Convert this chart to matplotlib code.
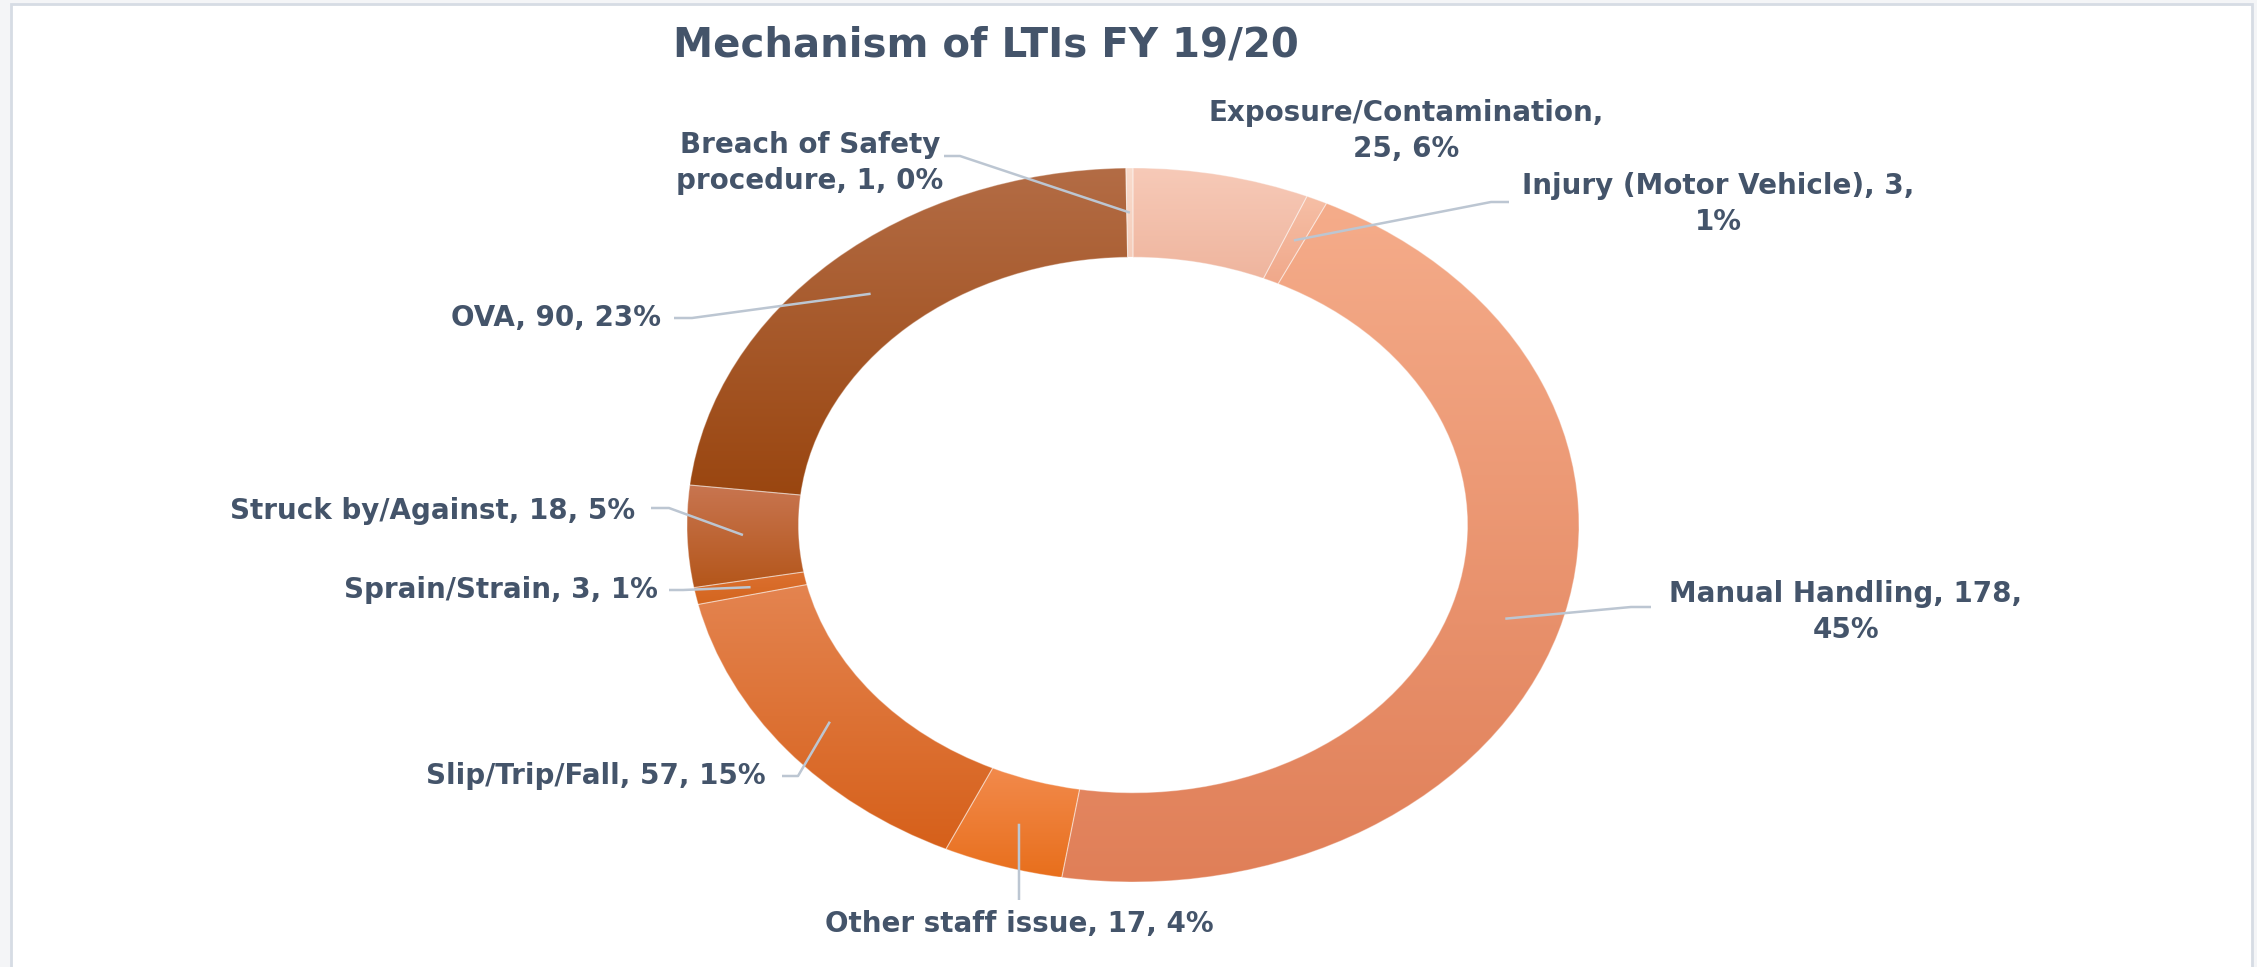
import numpy as np
import matplotlib
matplotlib.use("Agg")
import matplotlib.pyplot as plt
from matplotlib.colors import LinearSegmentedColormap
from matplotlib.patches import Rectangle

# data
categories = ['Exposure/Contamination', 'Injury (Motor Vehicle)', 'Manual Handling',
              'Other staff issue', 'Slip/Trip/Fall', 'Sprain/Strain',
              'Struck by/Against', 'OVA', 'Breach of Safety procedure']
counts = [25, 3, 178, 17, 57, 3, 18, 90, 1]

# styles (top -> bottom of each slice)
top_colors = ['#F7CAB8', '#F6BFA6', '#F5AC8A', '#F28A4C', '#E48450',
              '#DC7030', '#C87550', '#B36C45', '#F9DCCD']
bottom_colors = ['#EFB59E', '#F0A88A', '#E07F58', '#E86F1C', '#D6601A',
                 '#D4661F', '#B4561A', '#9A4610', '#F5CDBB']

W, H = 2257, 967
cx, cy, rx, ry = 1133, 525, 446, 357   # pixel geometry of the ring
text_col = '#44546A'
line_col = '#BCC6D2'

plt.rcParams['font.family'] = ['DejaVu Sans']


def px(x, y):
    # pixel position (from top-left) -> data coords
    return (x - cx) / rx, (cy - y) / ry


fig = plt.figure(figsize=(W / 100, H / 100), dpi=100)
fig.patch.set_facecolor('#F4F5F7')
fig.patches.append(Rectangle((11 / W, -0.05), (2252 - 11) / W, 1.05 - 4 / H,
                             transform=fig.transFigure, facecolor='white',
                             edgecolor='#D6DCE4', linewidth=2, zorder=-1))

ax = fig.add_axes([0, 0, 1, 1])
ax.patch.set_alpha(0)

wedges, _ = ax.pie(counts, startangle=90, counterclock=False, radius=1,
                   wedgeprops=dict(width=0.25, edgecolor='none'))

# vertical gradient inside each slice
grad = np.linspace(0, 1, 256).reshape(-1, 1)
for w, c0, c1 in zip(wedges, top_colors, bottom_colors):
    bb = w.get_path().get_extents()
    cmap = LinearSegmentedColormap.from_list('g', [c0, c1])
    im = ax.imshow(grad, extent=[bb.x0, bb.x1, bb.y0, bb.y1], cmap=cmap,
                   aspect='auto', interpolation='bilinear', zorder=2)
    im.set_clip_path(w)
    w.set_zorder(3)
    w.set_facecolor('none')
    w.set_edgecolor((1, 1, 1, 0.35))
    w.set_linewidth(0.8)

ax.set_aspect('auto')
ax.set_xlim(-cx / rx, (W - cx) / rx)
ax.set_ylim(-(H - cy) / ry, cy / ry)
ax.axis('off')

# anchors at the middle of each slice
total = sum(counts)
cum = np.cumsum([0] + counts)
mids = 90 - 360 * (cum[:-1] + np.array(counts) / 2) / total
anchors = [(0.875 * np.cos(np.radians(a)), 0.875 * np.sin(np.radians(a))) for a in mids]

pcts = [round(100 * c / total) for c in counts]
labels = [f'{n}, {c}, {p}%' for n, c, p in zip(categories, counts, pcts)]
labels[0] = f'{categories[0]},\n{counts[0]}, {pcts[0]}%'
labels[1] = f'{categories[1]}, {counts[1]},\n{pcts[1]}%'
labels[2] = f'{categories[2]}, {counts[2]},\n{pcts[2]}%'
labels[8] = f'Breach of Safety\nprocedure, {counts[8]}, {pcts[8]}%'

# label layout: (x, y, ha) in pixels, and leader start point (None = no line)
label_pos = [(1406, 131, 'center'), (1718, 204, 'center'), (1846, 612, 'center'),
             (1019, 924, 'center'), (766, 776, 'right'), (658, 590, 'right'),
             (635, 511, 'right'), (661, 318, 'right'), (810, 163, 'center')]
leader_start = [None, (1509, 202, -18), (1651, 607, -20), (1019, 900, 0),
                (782, 776, 16), (669, 590, 14), (651, 508, 18),
                (674, 318, 18), (944, 156, 16)]

for lab, (x, y, ha), ls, anc in zip(labels, label_pos, leader_start, anchors):
    tx, ty = px(x, y)
    ax.text(tx, ty, lab, ha=ha, va='center', fontsize=20, fontweight='bold',
            color=text_col, linespacing=1.35, zorder=5)
    if ls is None:
        continue
    x0, y0 = px(ls[0], ls[1])
    x1, y1 = px(ls[0] + ls[2], ls[1])
    ax.plot([x0, x1, anc[0]], [y0, y1, anc[1]], color=line_col, lw=1.8,
            solid_capstyle='butt', zorder=4)

tx, ty = px(986, 46)
ax.text(tx, ty, 'Mechanism of LTIs FY 19/20', ha='center', va='center',
        fontsize=29, fontweight='bold', color=text_col, zorder=5)

fig.savefig('out.png', dpi=100, facecolor=fig.get_facecolor())
